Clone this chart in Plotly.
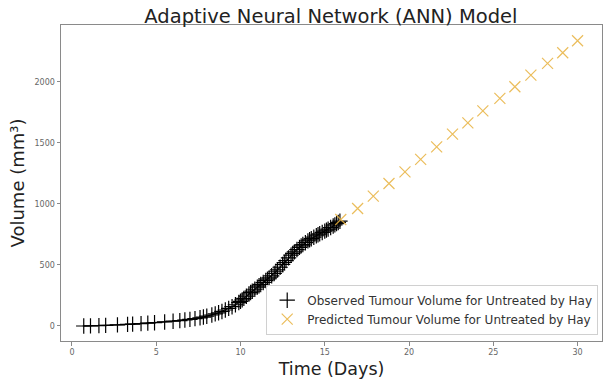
import plotly.graph_objects as go

# Observed tumour volume (untreated, Hay) — day, volume in mm^3
obs_days = [0.7, 1.1, 1.6, 2.0, 2.7, 3.3, 3.6, 4.1, 4.5, 4.9, 5.5, 6.0, 6.4, 6.7, 7.0,
            7.3, 7.6, 7.8, 8.0, 8.3, 8.5, 8.7, 8.9, 9.1, 9.3, 9.5, 9.7, 9.9,
            10.0, 10.1, 10.2, 10.35, 10.5, 10.6, 10.7, 10.85, 11.0, 11.1, 11.2, 11.35,
            11.5, 11.6, 11.7, 11.85, 12.0, 12.1, 12.2, 12.35, 12.5, 12.6, 12.7, 12.85,
            13.0, 13.1, 13.2, 13.35, 13.5, 13.6, 13.7, 13.85, 14.0, 14.1, 14.2, 14.35,
            14.5, 14.6, 14.7, 14.85, 15.0, 15.1, 15.2, 15.35, 15.5, 15.6, 15.7, 15.8, 15.9]
obs_volume = [0, 1, 3, 5, 9, 13, 15, 19, 23, 27, 33, 39, 44, 49, 54,
              60, 67, 73, 80, 90, 99, 108, 119, 131, 144, 158, 174, 192,
              202, 214, 226, 244, 262, 274, 285, 301, 318, 329, 340, 356,
              372, 383, 394, 411, 430, 444, 459, 481, 504, 520, 536, 558,
              580, 594, 607, 626, 644, 656, 667, 682, 697, 706, 715, 727,
              739, 747, 755, 766, 777, 785, 793, 806, 819, 828, 838, 848, 858]

# ANN predicted tumour volume
pred_days = [15.95, 16.95, 17.88, 18.81, 19.76, 20.69, 21.64, 22.58, 23.49, 24.38,
             25.39, 26.28, 27.23, 28.22, 29.12, 30.0]
pred_volume = [872, 962, 1063, 1167, 1262, 1364, 1467, 1571, 1664, 1762,
               1864, 1959, 2055, 2151, 2238, 2336]

x_ticks = [0, 5, 10, 15, 20, 25, 30]
y_ticks = [0, 500, 1000, 1500, 2000]

FONT = "DejaVu Sans"
PRED_COLOR = "rgba(232,178,62,0.85)"

fig = go.Figure()

# thin connecting line through the observed series
fig.add_trace(go.Scatter(
    x=obs_days, y=obs_volume, mode="lines",
    line=dict(color="black", width=1.2),
    showlegend=False, hoverinfo="skip",
))
fig.add_trace(go.Scatter(
    x=obs_days, y=obs_volume, mode="markers",
    name="Observed Tumour Volume for Untreated by Hay",
    marker=dict(symbol="cross-thin-open", size=11, color="black",
                line=dict(color="black", width=1.2)),
))
fig.add_trace(go.Scatter(
    x=pred_days, y=pred_volume, mode="markers",
    name="Predicted Tumour Volume for Untreated by Hay",
    marker=dict(symbol="x-thin-open", size=11, color=PRED_COLOR,
                line=dict(color=PRED_COLOR, width=1.2)),
))

axis_common = dict(
    showgrid=False, zeroline=False,
    showline=True, linecolor="#8a8a8a", linewidth=1, mirror=True,
    ticks="outside", ticklen=3.5, tickcolor="#8a8a8a", tickwidth=1,
    tickfont=dict(family=FONT, size=8, color="#666666"),
)

fig.update_layout(
    width=605, height=379,
    margin=dict(l=61, r=3, t=25, b=38),
    paper_bgcolor="white", plot_bgcolor="white",
    font=dict(family=FONT, color="#222222"),
    title=dict(text="Adaptive Neural Network (ANN) Model",
               x=0.547, xanchor="center", y=0.958, yanchor="middle",
               font=dict(family=FONT, size=19.5, color="#222222")),
    xaxis=dict(range=[-0.65, 31.45], tickvals=x_ticks,
               title=dict(text="Time (Days)", standoff=6,
                          font=dict(family=FONT, size=17.5, color="#222222")),
               **axis_common),
    yaxis=dict(range=[-123, 2465], tickvals=y_ticks,
               title=dict(text="Volume (mm³)", standoff=5,
                          font=dict(family=FONT, size=18, color="#222222")),
               **axis_common),
    legend=dict(x=0.993, y=0.02, xanchor="right", yanchor="bottom",
                bgcolor="rgba(255,255,255,0.85)", bordercolor="#d0d0d0", borderwidth=1,
                font=dict(family=FONT, size=12, color="#333333"),
                tracegroupgap=0),
)

fig.write_html("out.html")
